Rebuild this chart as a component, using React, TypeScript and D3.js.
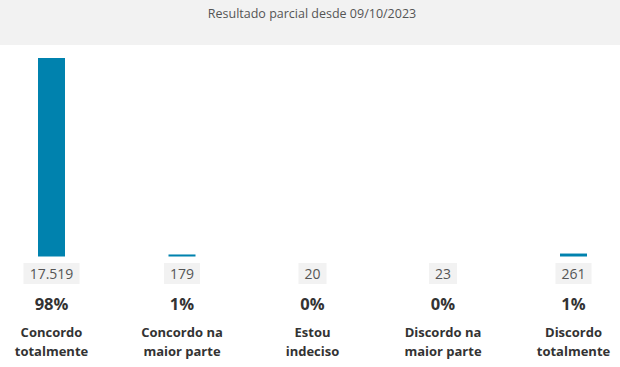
import React from "react";
import * as d3 from "d3";

const categories = ["Concordo totalmente", "Concordo na maior parte", "Estou indeciso", "Discordo na maior parte", "Discordo totalmente"];
const labelLines = [["Concordo", "totalmente"], ["Concordo na", "maior parte"], ["Estou", "indeciso"], ["Discordo na", "maior parte"], ["Discordo", "totalmente"]];
const values = [17519, 179, 20, 23, 261];
const valueLabels = ["17.519", "179", "20", "23", "261"];
const percents = ["98%", "1%", "0%", "0%", "1%"];
const title = "Resultado parcial desde 09/10/2023";

const W = 620;
const H = 367;
const FONT = "'Open Sans', sans-serif";

function measure(text: string, font: string): number {
  const c = document.createElement("canvas");
  const ctx = c.getContext("2d");
  if (!ctx) return text.length * 8;
  ctx.font = font;
  return ctx.measureText(text).width;
}

export default function App() {
  const x = d3.scalePoint<string>().domain(categories).range([51.5, 573.5]);
  const y = d3.scaleLinear().domain([0, d3.max(values) as number]).range([256.5, 58]);
  const barW = 27;
  const color = "#0082ae";

  return (
    <svg width={W} height={H} style={{ position: "absolute", left: 0, top: 0, display: "block" }} fontFamily={FONT}>
      <rect x={0} y={0} width={W} height={45} fill="#f2f2f2" />
      <text x={312} y={18} textAnchor="middle" fontSize={12.5} fill="#555">{title}</text>
      {categories.map((c, i) => {
        const cx = x(c) as number;
        const h = y(0) - y(values[i]);
        const tw = measure(valueLabels[i], `14px ${FONT}`);
        const bw = Math.round(tw + 12);
        return (
          <g key={c}>
            {h >= 1 && (
              <rect x={cx - barW / 2} y={y(values[i])} width={barW} height={h} fill={color} />
            )}
            <rect x={cx - bw / 2} y={263} width={bw} height={21} fill="#f2f2f2" />
            <text x={cx} y={278.5} textAnchor="middle" fontSize={14} fill="#555">{valueLabels[i]}</text>
            <text x={cx} y={310} textAnchor="middle" fontSize={16.5} fontWeight="bold" fill="#333">{percents[i]}</text>
            {labelLines[i].map((l, j) => (
              <text key={j} x={cx} y={337 + j * 18.5} textAnchor="middle" fontSize={13} fontWeight="bold" fill="#333">{l}</text>
            ))}
          </g>
        );
      })}
    </svg>
  );
}
